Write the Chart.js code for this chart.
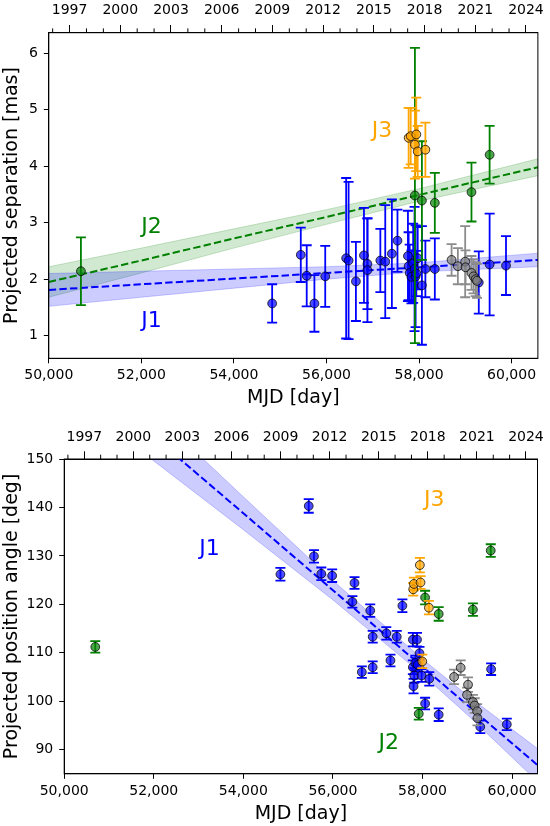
<!DOCTYPE html>
<html><head><meta charset="utf-8">
<script src="https://cdn.jsdelivr.net/npm/chart.js@4.4.1/dist/chart.umd.min.js"></script>
<style>
html,body{margin:0;padding:0;background:#fff;}
#w1{position:absolute;left:0;top:0;width:550px;height:410px;}
#w2{position:absolute;left:0;top:410px;width:550px;height:416px;}
</style></head><body>
<div id="w1"><canvas id="c1"></canvas></div>
<div id="w2"><canvas id="c2"></canvas></div>
<script>
// ---------- axis ranges / ticks ----------
const mjdMin = 50000, mjdMax = 60568;
const mjdTicks = [50000, 52000, 54000, 56000, 58000, 60000];
const yearMajorMjd = [50449, 51544, 52640, 53736, 54832, 55927, 57023, 58119, 59215, 60310];
const yearMajorLabels = ['1997','2000','2003','2006','2009','2012','2015','2018','2021','2024'];
const yearMinorMjd = [50083, 50814, 51179, 51910, 52275, 53005, 53371, 54101, 54466, 55197, 55562, 56293, 56658, 57388, 57754, 58484, 58849, 59580, 59945];
const sepTicks = [1, 2, 3, 4, 5, 6];
const paTicks = [90, 100, 110, 120, 130, 140, 150];

// ---------- separation (top panel) ----------
const j1Mjd = [54826, 55445, 55573, 55739, 55973, 56425, 56478, 56636, 56810, 56885, 56885, 57164, 57270, 57413, 57534, 57760, 57775, 57798, 57836, 57873, 57903, 57926, 57941, 57971, 58062, 58137, 58341, 59291, 59525, 59879];
const j1Sep = [1.57, 2.43, 2.06, 1.57, 2.05, 2.37, 2.33, 1.96, 2.42, 2.27, 2.16, 2.33, 2.31, 2.45, 2.68, 2.41, 2.23, 2.11, 2.04, 2.28, 2.18, 2.05, 2.10, 2.37, 1.89, 2.18, 2.18, 1.94, 2.26, 2.24];
const j1SepErr = [0.34, 0.48, 0.54, 0.50, 0.54, 1.42, 1.39, 0.70, 0.84, 0.80, 0.92, 0.56, 1.00, 0.96, 0.55, 0.80, 0.60, 0.50, 0.47, 0.70, 1.10, 0.90, 0.40, 0.55, 1.05, 0.50, 0.54, 0.55, 0.90, 0.52];

const j2Mjd = [50694, 57911, 58062, 58341, 59133, 59525];
const j2Sep = [2.14, 3.48, 3.39, 3.35, 3.54, 4.20];
const j2SepErr = [0.60, 2.61, 1.05, 0.53, 0.52, 0.51];

const j3Mjd = [57775, 57820, 57911, 57941, 57971, 58137];
const j3Sep = [4.50, 4.53, 4.38, 4.56, 4.26, 4.29];
const j3SepErr = [0.53, 0.50, 0.60, 0.65, 0.45, 0.48];

const grMjd = [58703, 58839, 58997, 59005, 59133, 59178, 59223, 59253];
const grSep = [2.34, 2.23, 2.31, 2.21, 2.11, 2.05, 2.00, 1.97];
const grSepErr = [0.28, 0.32, 0.63, 0.30, 0.30, 0.30, 0.30, 0.30];

// fits and confidence bands (top)
const bandMjd = [50000, 52000, 54000, 56000, 58000, 60568];
const j1SepFit = [1.81, 1.91, 2.01, 2.11, 2.21, 2.34];
const j1SepLo  = [1.52, 1.68, 1.84, 2.00, 2.13, 2.22];
const j1SepHi  = [2.10, 2.14, 2.18, 2.22, 2.29, 2.46];
const j2SepFit = [1.95, 2.33, 2.72, 3.10, 3.49, 3.98];
const j2SepLo  = [1.68, 2.11, 2.55, 2.97, 3.38, 3.83];
const j2SepHi  = [2.22, 2.55, 2.89, 3.23, 3.60, 4.13];

// ---------- position angle (bottom panel) ----------
const j1PaMjd = [54828, 55460, 55577, 55741, 55983, 56435, 56482, 56646, 56833, 56888, 56888, 57192, 57285, 57426, 57551, 57785, 57878, 57933, 57785, 57816, 57840, 57894, 57800, 57980, 58151, 58058, 58362, 59290, 59532, 59883];
const j1Pa = [126.2, 140.3, 129.9, 126.3, 125.9, 120.5, 124.4, 106.0, 118.7, 113.3, 107.0, 114.0, 108.4, 113.3, 119.7, 112.7, 112.7, 109.9, 107.0, 105.3, 107.9, 107.5, 103.1, 105.3, 104.6, 99.5, 97.2, 94.7, 106.6, 95.2];
const j1PaErr = [1.3, 1.4, 1.3, 1.3, 1.3, 1.2, 1.2, 1.2, 1.3, 1.2, 1.2, 1.3, 1.2, 1.2, 1.3, 1.4, 1.4, 1.3, 1.4, 1.5, 1.5, 1.4, 1.5, 1.3, 1.4, 1.2, 1.3, 1.3, 1.2, 1.2];

const j2PaMjd = [50694, 57917, 58058, 58362, 59126, 59524];
const j2Pa = [111.2, 97.4, 121.4, 118.0, 118.9, 131.1];
const j2PaErr = [1.2, 1.2, 1.4, 1.4, 1.3, 1.3];

const j3PaMjd = [57793, 57808, 57941, 57956, 58143, 57995];
const j3Pa = [123.1, 124.2, 128.1, 124.5, 119.3, 108.2];
const j3PaErr = [1.3, 1.3, 1.5, 1.3, 1.4, 1.4];

const grPaMjd = [58705, 58853, 59017, 58994, 59126, 59165, 59220, 59228];
const grPa = [105.0, 106.9, 103.4, 101.3, 99.8, 99.1, 97.9, 96.5];
const grPaErr = [1.5, 1.5, 1.5, 1.5, 1.5, 1.5, 1.5, 1.5];

const paBandMjd = [50000, 52000, 54000, 56000, 58000, 59000, 60568];
const j1PaFit = [170.4, 154.6, 138.8, 122.9, 107.1, 99.2, 86.8];
const j1PaLo  = [163.9, 149.6, 135.4, 120.9, 105.5, 97.2, 83.4];
const j1PaHi  = [176.9, 159.6, 142.2, 124.9, 108.7, 101.2, 90.2];

// labels
const sepLabels = [{t:'J2', x:52217, y:2.92, c:'#008000'}, {t:'J1', x:52217, y:1.25, c:'#0000ff'}, {t:'J3', x:57202, y:4.62, c:'#ffa500'}];
const paLabels = [{t:'J1', x:53245, y:131.4, c:'#0000ff'}, {t:'J3', x:58260, y:141.4, c:'#ffa500'}, {t:'J2', x:57247, y:91.4, c:'#008000'}];

// ---------- helpers ----------
const FONT = 'DejaVu Sans';
const pts = (xs, ys) => xs.map((x, i) => ({x: x, y: ys[i]}));

function pointSet(xs, ys, errs, fill, errColor, order) {
  return {type:'scatter', data: pts(xs, ys), errs: errs, errColor: errColor,
    backgroundColor: fill, borderColor: 'rgba(0,0,0,0.75)', borderWidth: 1,
    pointRadius: 4.4, pointHoverRadius: 4.4, order: order};
}
function bandSets(xs, lo, hi, fillColor, edgeColor) {
  return [
    {type:'line', data: pts(xs, lo), borderColor: edgeColor, borderWidth: 0.8, pointRadius: 0, fill: false, tension: 0, order: 20},
    {type:'line', data: pts(xs, hi), borderColor: edgeColor, borderWidth: 0.8, pointRadius: 0, fill: '-1', backgroundColor: fillColor, tension: 0, order: 20}
  ];
}
function fitSet(xs, ys, color) {
  return {type:'line', data: pts(xs, ys), borderColor: color, borderWidth: 2, borderDash: [7.4, 3.2], pointRadius: 0, fill: false, tension: 0, order: 10};
}

const errorBarPlugin = {
  id: 'errbars',
  beforeDatasetDraw(chart, args) {
    const ds = chart.data.datasets[args.index];
    if (!ds.errs) return;
    const ctx = chart.ctx, a = chart.chartArea;
    const xs = chart.scales.x, ys = chart.scales.y;
    ctx.save();
    ctx.beginPath(); ctx.rect(a.left, a.top, a.right - a.left, a.bottom - a.top); ctx.clip();
    ctx.strokeStyle = ds.errColor; ctx.lineWidth = 1.8;
    ds.data.forEach((p, i) => {
      const e = ds.errs[i];
      const px = xs.getPixelForValue(p.x);
      const y1 = ys.getPixelForValue(p.y + e), y2 = ys.getPixelForValue(p.y - e);
      ctx.beginPath();
      ctx.moveTo(px, y1); ctx.lineTo(px, y2);
      ctx.moveTo(px - 5, y1); ctx.lineTo(px + 5, y1);
      ctx.moveTo(px - 5, y2); ctx.lineTo(px + 5, y2);
      ctx.stroke();
    });
    ctx.restore();
  }
};

const framePlugin = {
  id: 'frame',
  afterDraw(chart) {
    const ctx = chart.ctx, a = chart.chartArea;
    ctx.save();
    ctx.strokeStyle = '#000'; ctx.lineWidth = 1;
    ctx.strokeRect(a.left, a.top, a.right - a.left, a.bottom - a.top);
    // minor year ticks on the top axis
    const xt = chart.scales.xTop;
    ctx.beginPath();
    yearMinorMjd.forEach(m => {
      const px = xt.getPixelForValue(m);
      if (px >= a.left && px <= a.right) { ctx.moveTo(px, a.top); ctx.lineTo(px, a.top - 4.3); }
    });
    ctx.stroke();
    // text labels
    const lab = chart.options.plugins.frame.labels;
    ctx.font = '22px "' + FONT + '"';
    ctx.textAlign = 'center'; ctx.textBaseline = 'middle';
    lab.forEach(l => {
      ctx.fillStyle = l.c;
      ctx.fillText(l.t, chart.scales.x.getPixelForValue(l.x), chart.scales.y.getPixelForValue(l.y));
    });
    ctx.restore();
  }
};

function makeOptions(cfg) {
  const tickFont = {family: FONT, size: 14};
  const titleFont = {family: FONT, size: 19};
  return {
    responsive: true, maintainAspectRatio: false, animation: false,
    layout: {autoPadding: false, padding: {left: 0, right: cfg.rightPad, top: 0, bottom: 0}},
    plugins: {legend: {display: false}, tooltip: {enabled: false}, frame: {labels: cfg.labels}},
    scales: {
      x: {
        type: 'linear', position: 'bottom', min: mjdMin, max: mjdMax,
        afterBuildTicks: s => { s.ticks = mjdTicks.map(v => ({value: v})); },
        afterFit: s => { s.height = cfg.botH; },
        ticks: {callback: v => v.toLocaleString('en-US'), font: tickFont, color: '#000', padding: 4, maxRotation: 0, autoSkip: false},
        grid: {drawOnChartArea: false, tickLength: 5, color: '#000', tickWidth: 1},
        border: {color: '#000', width: 1},
        title: {display: true, text: 'MJD [day]', font: titleFont, color: '#000', padding: {top: 0, bottom: 1}}
      },
      xTop: {
        axis: 'x', type: 'linear', position: 'top', min: mjdMin, max: mjdMax,
        afterBuildTicks: s => { s.ticks = yearMajorMjd.map(v => ({value: v})); },
        afterFit: s => { s.height = cfg.topH; },
        ticks: {callback: (v, i) => yearMajorLabels[i], font: tickFont, color: '#000', padding: 6, maxRotation: 0, autoSkip: false},
        grid: {drawOnChartArea: false, tickLength: 7.7, color: '#000', tickWidth: 1},
        border: {color: '#000', width: 1}
      },
      y: {
        type: 'linear', position: 'left', min: cfg.yMin, max: cfg.yMax,
        afterBuildTicks: s => { s.ticks = cfg.yTicks.map(v => ({value: v})); },
        afterFit: s => { s.width = cfg.yW; },
        ticks: {font: tickFont, color: '#000', padding: 6, autoSkip: false},
        grid: {drawOnChartArea: false, tickLength: 5, color: '#000', tickWidth: 1},
        border: {color: '#000', width: 1},
        title: {display: true, text: cfg.yTitle, font: titleFont, color: '#000', padding: {top: 1, bottom: 0}}
      }
    }
  };
}

// ---------- top chart ----------
new Chart(document.getElementById('c1'), {
  type: 'scatter',
  data: {datasets: [
    ...bandSets(bandMjd, j1SepLo, j1SepHi, 'rgba(0,0,255,0.2)', 'rgba(0,0,255,0.25)'),
    ...bandSets(bandMjd, j2SepLo, j2SepHi, 'rgba(0,128,0,0.18)', 'rgba(0,128,0,0.25)'),
    fitSet(bandMjd, j1SepFit, '#0000ff'),
    fitSet(bandMjd, j2SepFit, '#008000'),
    pointSet(j1Mjd, j1Sep, j1SepErr, 'rgba(0,0,255,0.7)', '#0000ff', 4),
    pointSet(j2Mjd, j2Sep, j2SepErr, 'rgba(0,128,0,0.7)', '#008000', 3),
    pointSet(j3Mjd, j3Sep, j3SepErr, 'rgba(255,165,0,0.7)', '#ffa500', 2),
    pointSet(grMjd, grSep, grSepErr, 'rgba(128,128,128,0.7)', '#8c8c8c', 1)
  ]},
  options: makeOptions({yMin: 0.6, yMax: 6.36, yTicks: sepTicks, yTitle: 'Projected separation [mas]', yW: 48.8, topH: 32.7, botH: 51.7, rightPad: 9.8, labels: sepLabels}),
  plugins: [errorBarPlugin, framePlugin]
});

// ---------- bottom chart ----------
new Chart(document.getElementById('c2'), {
  type: 'scatter',
  data: {datasets: [
    ...bandSets(paBandMjd, j1PaLo, j1PaHi, 'rgba(0,0,255,0.2)', 'rgba(0,0,255,0.25)'),
    fitSet(paBandMjd, j1PaFit, '#0000ff'),
    pointSet(j1PaMjd, j1Pa, j1PaErr, 'rgba(0,0,255,0.7)', '#0000ff', 4),
    pointSet(j2PaMjd, j2Pa, j2PaErr, 'rgba(0,128,0,0.7)', '#008000', 3),
    pointSet(j3PaMjd, j3Pa, j3PaErr, 'rgba(255,165,0,0.7)', '#ffa500', 2),
    pointSet(grPaMjd, grPa, grPaErr, 'rgba(128,128,128,0.7)', '#8c8c8c', 1)
  ]},
  options: makeOptions({yMin: 85, yMax: 150, yTicks: paTicks, yTitle: 'Projected position angle [deg]', yW: 64.2, topH: 49, botH: 52.2, rightPad: 9.8, labels: paLabels}),
  plugins: [errorBarPlugin, framePlugin]
});
</script>
</body></html>
